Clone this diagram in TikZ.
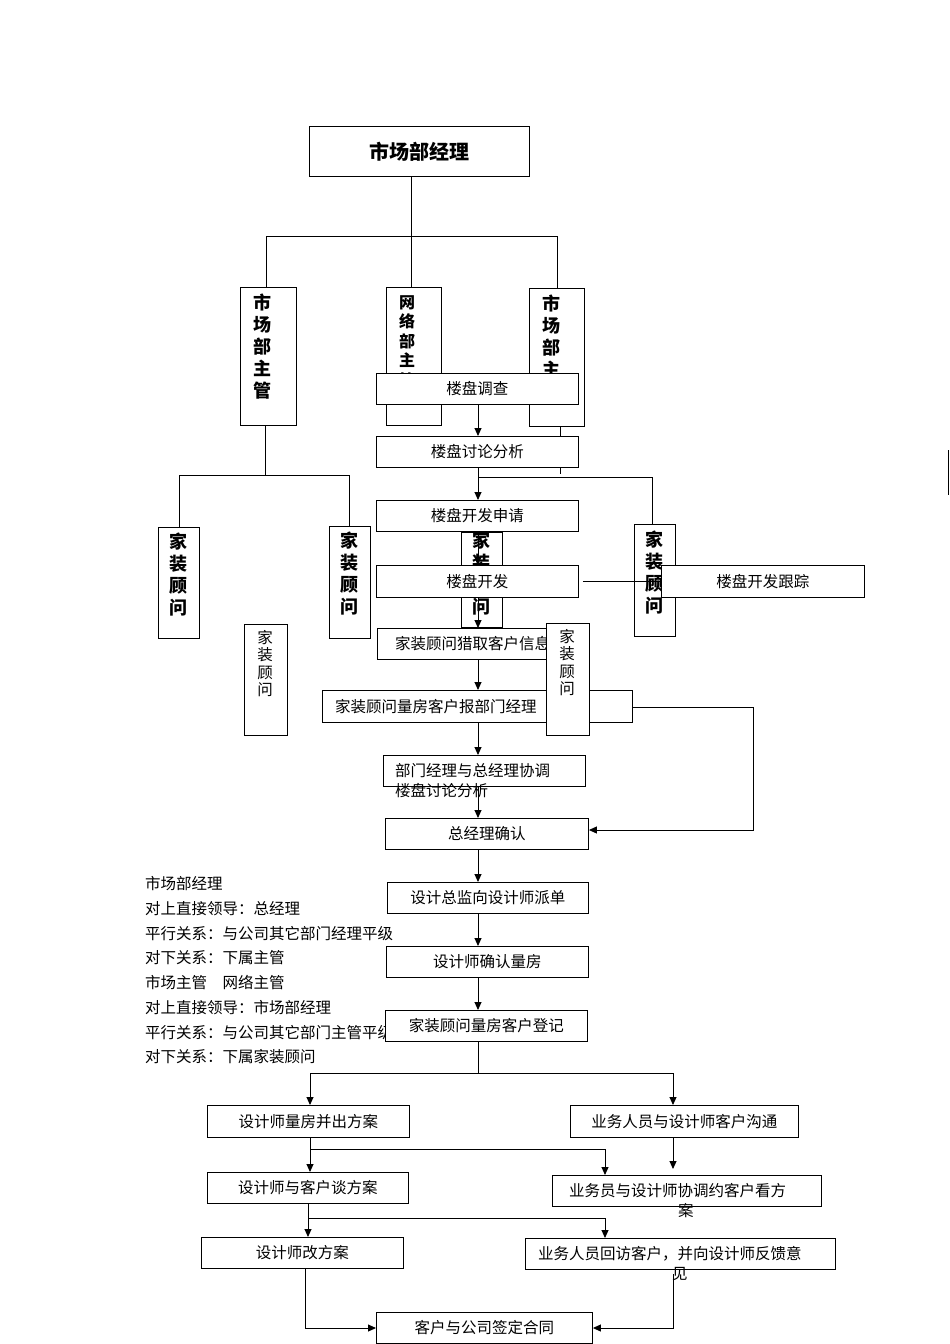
\documentclass[tikz,border=0pt]{standalone}
\usepackage{fontspec}
\setmainfont{Noto Sans CJK SC}
\usetikzlibrary{arrows.meta}
\begin{document}
\begin{tikzpicture}[x=1pt,y=-1pt,
  bx/.style={draw,fill=white,line width=0.9pt,inner sep=0pt,anchor=north west,font=\fontsize{15.5}{17}\selectfont},
  vt/.style={align=center,font=\bfseries\fontsize{18}{22}\selectfont,anchor=north,inner sep=0pt},
  vs/.style={align=center,font=\fontsize{15.5}{17.5}\selectfont,anchor=north,inner sep=0pt},
  ln/.style={line width=0.9pt},
  ar/.style={line width=0.9pt,-{Triangle[length=8pt,width=7pt]}},
  tx/.style={anchor=west,inner sep=0pt,font=\fontsize{15.5}{17}\selectfont}]
\useasboundingbox (0,0) rectangle (950,1344);
% top org
\node[bx,font=\bfseries\fontsize{20}{22}\selectfont,minimum width=220pt,minimum height=50pt] (top) at (309,126) {市场部经理};
\coordinate (j1) at (411,236);
\draw[ln] (top.south -| j1) -- (j1);
\draw[ln] (266,236) -- (557,236);
\node[bx,minimum width=56pt,minimum height=138pt] (m1) at (240,287) {};
\node[vt] at (262,294) {市\\场\\部\\主\\管};
\node[bx,minimum width=55pt,minimum height=138pt] (m2) at (386,287) {};
\node[vt,font=\bfseries\fontsize{16}{19.5}\selectfont] at (407,295) {网\\络\\部\\主\\管};
\node[bx,minimum width=55pt,minimum height=138pt] (m3) at (529,288) {};
\node[vt] at (551,295) {市\\场\\部\\主\\管};
\draw[ln] (266,236) -- (m1.north -| 266,0);
\draw[ln] (j1) -- (m2.north -| j1);
\draw[ln] (557,236) -- (m3.north -| 557,0);
% left subtree
\draw[ln] (m1.south -| 265,0) -- (265,475);
\draw[ln] (179,475) -- (349,475);
\node[bx,minimum width=41pt,minimum height=111pt] (a1) at (158,527) {};
\node[vt] at (178,533) {家\\装\\顾\\问};
\node[bx,minimum width=41pt,minimum height=112pt] (a2) at (329,526) {};
\node[vt] at (349,532) {家\\装\\顾\\问};
\draw[ln] (179,475) -- (a1.north -| 179,0);
\draw[ln] (349,475) -- (a2.north -| 349,0);
% right subtree
\draw[ln] (m3.south -| 560,0) -- (560,474);
\draw[ln] (478,477) -- (652,477);
\node[bx,minimum width=41pt,minimum height=95pt] (a3) at (461,532) {};
\node[vt] at (481,532) {家\\装\\顾\\问};
\node[bx,minimum width=41pt,minimum height=112pt] (a4) at (634,524) {};
\node[vt] at (654,531) {家\\装\\顾\\问};
\draw[ln] (652,477) -- (a4.north -| 652,0);
\node[bx,minimum width=43pt,minimum height=111pt] (a5) at (244,624) {};
\node[vs] at (265,630) {家\\装\\顾\\问};
\draw[ln] (948,450) -- (948,495);
% left text
\node[tx] (t1) at (145,884) {市场部经理};
\node[tx] (t2) at (145,909) {对上直接领导：总经理};
\node[tx] (t3) at (145,934) {平行关系：与公司其它部门经理平级};
\node[tx] (t4) at (145,958) {对下关系：下属主管};
\node[tx] (t5) at (145,983) {市场主管\quad 网络主管};
\node[tx] (t6) at (145,1008) {对上直接领导：市场部经理};
\node[tx] (t7) at (145,1033) {平行关系：与公司其它部门主管平级};
\node[tx] (t8) at (145,1057) {对下关系：下属家装顾问};
% flow
\node[bx,minimum width=202pt,minimum height=31pt] (f1) at (376,373) {楼盘调查};
\node[bx,minimum width=202pt,minimum height=31pt] (f2) at (376,436) {楼盘讨论分析};
\node[bx,minimum width=202pt,minimum height=31pt] (f3) at (376,500) {楼盘开发申请};
\node[bx,minimum width=202pt,minimum height=32pt] (f4) at (376,565) {楼盘开发};
\node[bx,minimum width=203pt,minimum height=32pt] (f4b) at (661,565) {楼盘开发跟踪};
\node[bx,minimum width=201pt,minimum height=31pt] (f5) at (377,628) {};
\node[tx] at (395,644) {家装顾问猎取客户信息};
\node[bx,minimum width=310pt,minimum height=32pt] (f6) at (322,690) {};
\node[tx] at (335,707) {家装顾问量房客户报部门经理};
\node[bx,minimum width=43pt,minimum height=112pt] (a6) at (546,623) {};
\node[vs] at (567,629) {家\\装\\顾\\问};
\node[bx,minimum width=202pt,minimum height=31pt] (f7) at (383,755) {};
\node[tx] at (395,771) {部门经理与总经理协调};
\node[tx] at (395,791) {楼盘讨论分析};
\node[bx,minimum width=203pt,minimum height=31pt] (f8) at (385,818) {总经理确认};
\node[bx,minimum width=201pt,minimum height=31pt] (f9) at (387,882) {设计总监向设计师派单};
\node[bx,minimum width=202pt,minimum height=31pt] (f10) at (386,946) {设计师确认量房};
\node[bx,minimum width=202pt,minimum height=31pt] (f11) at (385,1010) {家装顾问量房客户登记};
\node[bx,minimum width=202pt,minimum height=32pt] (g1) at (207,1105) {设计师量房并出方案};
\node[bx,minimum width=228pt,minimum height=32pt] (h1) at (570,1105) {业务人员与设计师客户沟通};
\node[bx,minimum width=201pt,minimum height=31pt] (g2) at (207,1172) {设计师与客户谈方案};
\node[bx,minimum width=269pt,minimum height=31pt] (h2) at (552,1175) {};
\node[tx] at (569,1191) {业务员与设计师协调约客户看方};
\node[tx] at (678,1211) {案};
\node[bx,minimum width=202pt,minimum height=31pt] (g3) at (201,1237) {设计师改方案};
\node[bx,minimum width=310pt,minimum height=31pt] (h3) at (525,1238) {};
\node[tx] at (538,1254) {业务人员回访客户，并向设计师反馈意};
\node[tx] at (672,1274) {见};
\node[bx,minimum width=216pt,minimum height=31pt] (end) at (376,1312) {客户与公司签定合同};
% flow arrows
\coordinate (X) at (478,0);
\draw[ar] (f1.south -| X) -- (f2.north -| X);
\draw[ar] (f2.south -| X) -- (f3.north -| X);
\draw[ar] (f3.south -| X) -- (f4.north -| X);
\draw[ar] (f4.south -| X) -- (f5.north -| X);
\draw[ar] (f5.south -| X) -- (f6.north -| X);
\draw[ar] (f6.south -| X) -- (f7.north -| X);
\draw[ar] (f7.south -| X) -- (f8.north -| X);
\draw[ar] (f8.south -| X) -- (f9.north -| X);
\draw[ar] (f9.south -| X) -- (f10.north -| X);
\draw[ar] (f10.south -| X) -- (f11.north -| X);
\draw[ln] (f4.east |- 0,581) ++(4,0) -- (f4b.west |- 0,581);
\coordinate (r1) at (753,707);
\draw[ar] (f6.east |- r1) -- (r1) -- (753,830) -- (f8.east |- 0,830);
\coordinate (s1) at (478,1073);
\draw[ln] (f11.south -| X) -- (s1);
\draw[ln] (310,1073) -- (673,1073);
\draw[ar] (310,1073) -- (g1.north -| 310,0);
\draw[ar] (673,1073) -- (h1.north -| 673,0);
\draw[ar] (g1.south -| 310,0) -- (g2.north -| 310,0);
\draw[ar] (310,1149) -- (605,1149) -- (h2.north -| 605,0);
\draw[ar] (h1.south -| 673,0) -- (673,1169);
\draw[ar] (g2.south -| 308,0) -- (g3.north -| 308,0);
\draw[ar] (308,1218) -- (605,1218) -- (h3.north -| 605,0);
\draw[ar] (g3.south -| 305,0) -- (305,1328) -- (end.west |- 0,1328);
\draw[ar] (673,1274) -- (673,1328) -- (end.east |- 0,1328);
\end{tikzpicture}
\end{document}
